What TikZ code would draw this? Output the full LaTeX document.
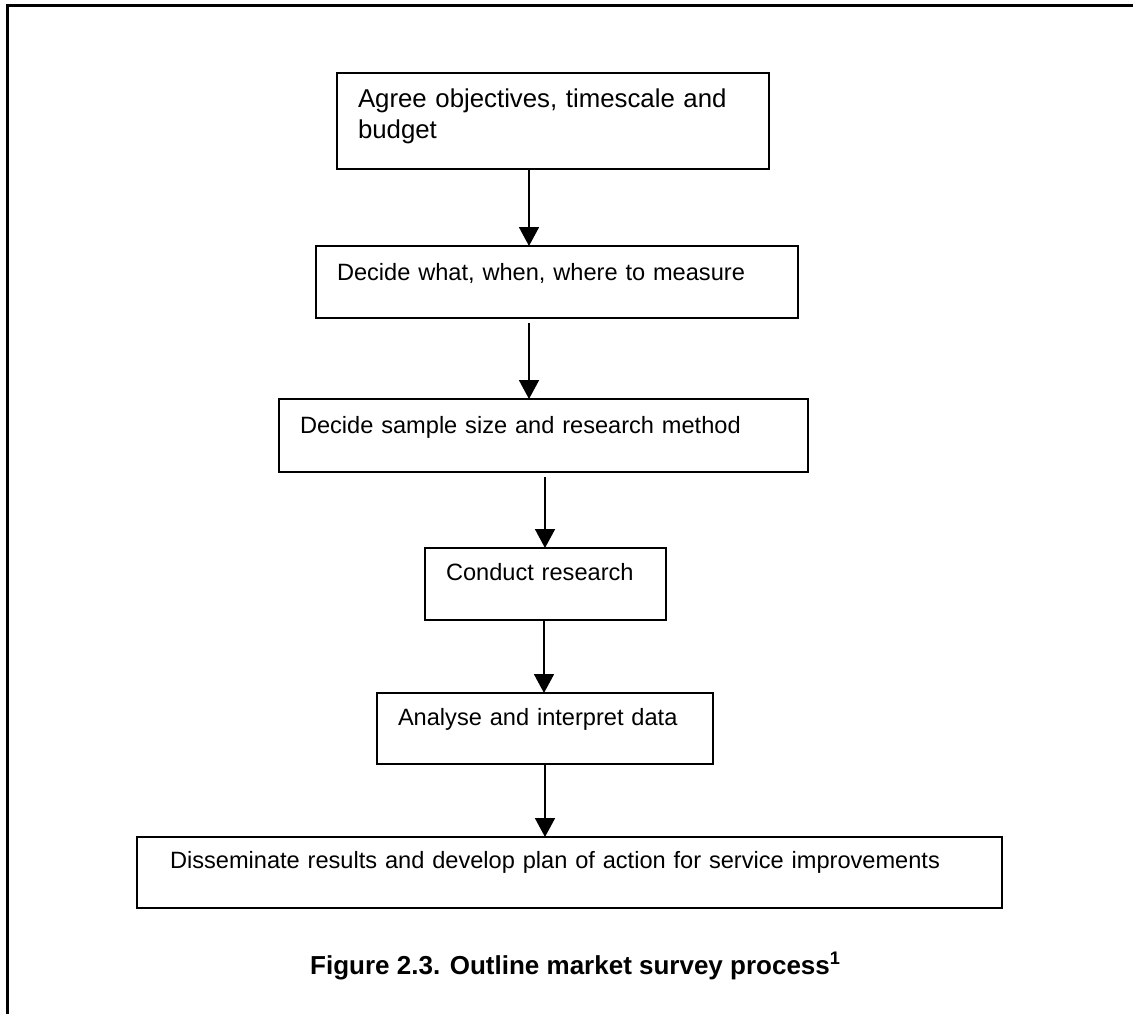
\documentclass[tikz,border=0pt]{standalone}
\usepackage{fontspec}
\setmainfont{Liberation Sans}
\usetikzlibrary{arrows.meta}
\tikzset{
  box/.style={draw, line width=1.8pt, rectangle, anchor=north west, inner ysep=0pt,
    outer sep=0pt, align=left, font=\fontsize{23.6}{31}\selectfont},
  arr/.style={line width=1.8pt, -{Triangle[length=19pt,width=20pt]}},
}
\begin{document}
\begin{tikzpicture}[x=1pt,y=-1pt]
	\useasboundingbox (0,0) rectangle (1133,1014);
	% frame
	\draw[line width=3pt] (7,1014) -- (7,6) -- (1133,6);
	% process steps
	\node[box, font=\fontsize{25.8}{31}\selectfont, inner xsep=21pt, text width=390pt,
		text height=35pt, text depth=61pt] (b1) at (337,73) {Agree objectives, timescale and\\budget};
	\node[box, inner xsep=21pt, text width=440pt, text height=34pt, text depth=38pt]
		(b2) at (316,246) {Decide what, when, where to measure};
	\node[box, inner xsep=21pt, text width=487pt, text height=34pt, text depth=39pt]
		(b3) at (279,399) {Decide sample size and research method};
	\node[box, inner xsep=21pt, text width=199pt, text height=32pt, text depth=40pt]
		(b4) at (425,548) {Conduct research};
	\node[box, inner xsep=21pt, text width=294pt, text height=32pt, text depth=39pt]
		(b5) at (377,693) {Analyse and interpret data};
	\node[box, inner xsep=33pt, text width=799pt, text height=31pt, text depth=40pt]
		(b6) at (137,837) {Disseminate results and develop plan of action for service improvements};
	% arrows
	\draw[arr] ([xshift=-24pt]b1.south) -- ([xshift=-24pt]b1.south |- b2.north);
	\draw[arr, shorten <=5pt] ([xshift=-28pt]b2.south) -- ([xshift=-28pt]b2.south |- b3.north);
	\draw[arr, shorten <=5pt] ([xshift=1.5pt]b3.south) -- ([xshift=1.5pt]b3.south |- b4.north);
	\draw[arr] ([xshift=-1.5pt]b4.south) -- ([xshift=-1.5pt]b4.south |- b5.north);
	\draw[arr] (b5.south) -- (b5.south |- b6.north);
	% caption
	\node[anchor=base west, inner sep=0pt, font=\fontsize{26}{30}\selectfont\bfseries] (cap) at (310,974)
		{Figure 2.3. Outline market survey process\textsuperscript{1}};
\end{tikzpicture}
\end{document}
